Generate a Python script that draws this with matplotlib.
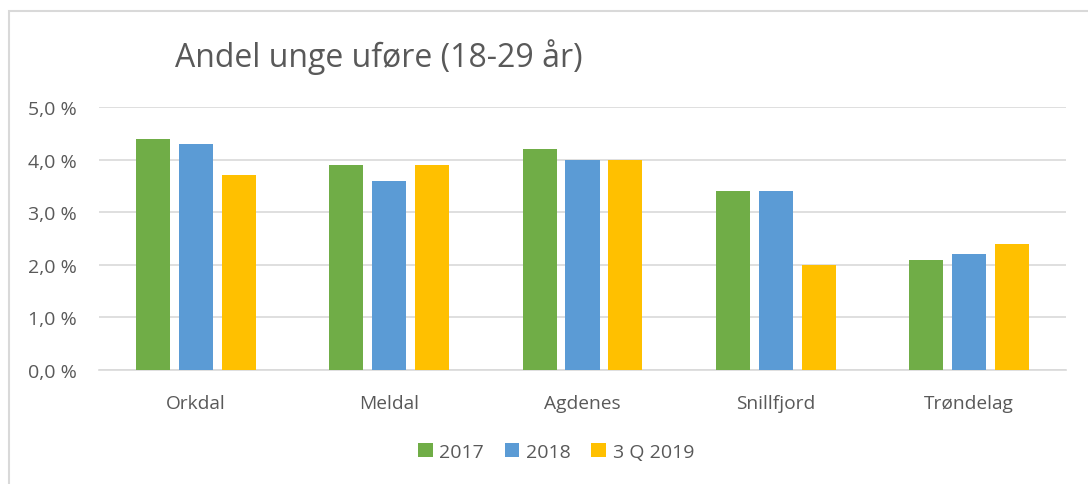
import matplotlib
matplotlib.use("Agg")
import matplotlib.pyplot as plt
import numpy as np
from matplotlib.patches import Rectangle
from matplotlib.ticker import FuncFormatter

categories = ["Orkdal", "Meldal", "Agdenes", "Snillfjord", "Trøndelag"]
series_names = ["2017", "2018", "3 Q 2019"]
v2017 = [4.4, 3.9, 4.2, 3.4, 2.1]
v2018 = [4.3, 3.6, 4.0, 3.4, 2.2]
v2019q3 = [3.7, 3.9, 4.0, 2.0, 2.4]
colors = ["#70AD47", "#5B9BD5", "#FFC000"]
title = "Andel unge uføre (18-29 år)"

plt.rcParams['font.family'] = ['Open Sans', 'DejaVu Sans']
txt = "#595959"

fig = plt.figure(figsize=(10.88, 4.85), dpi=100)
ax = fig.add_axes([99/1088, 1-371/485, (1066-99)/1088, (371-108)/485])

x = np.arange(len(categories))
w = 0.176
step = 0.222
for i, (vals, name, c) in enumerate(zip([v2017, v2018, v2019q3], series_names, colors)):
    ax.bar(x + (i-1)*step, vals, width=w, color=c, label=name, zorder=3)

ax.set_xlim(-0.5, len(categories)-0.5)
ax.set_ylim(0, 5)
ax.set_yticks(np.arange(0, 5.01, 1.0))
ax.yaxis.set_major_formatter(FuncFormatter(lambda v, p: f"{v:.1f}".replace(".", ",") + " %"))
ax.set_xticks(x)
ax.set_xticklabels(categories)
ax.grid(axis='y', color="#D9D9D9", linewidth=1.2, zorder=0)
for s in ["top", "right", "left"]:
    ax.spines[s].set_visible(False)
ax.spines["bottom"].set_color("#D9D9D9")
ax.spines["bottom"].set_linewidth(1.2)
ax.tick_params(axis='y', length=0, labelsize=14, colors=txt, pad=16)
ax.tick_params(axis='x', length=0, labelsize=13.8, colors=txt, pad=17)

fig.text(175/1088, 1-57/485, title, fontsize=23, color=txt, ha='left', va='center')

leg = fig.legend(loc='center', bbox_to_anchor=(556/1088, 1-453/485), ncol=3, frameon=False,
                 fontsize=14, handlelength=0.75, handleheight=0.75, handletextpad=0.35, columnspacing=1.05)
for t in leg.get_texts():
    t.set_color(txt)

fig.patches.append(Rectangle((9/1088, -0.05), 1.2, 1-12/485+0.05, transform=fig.transFigure,
                             fill=False, edgecolor="#D9D9D9", linewidth=1.5))

fig.savefig("out.png", dpi=100)
